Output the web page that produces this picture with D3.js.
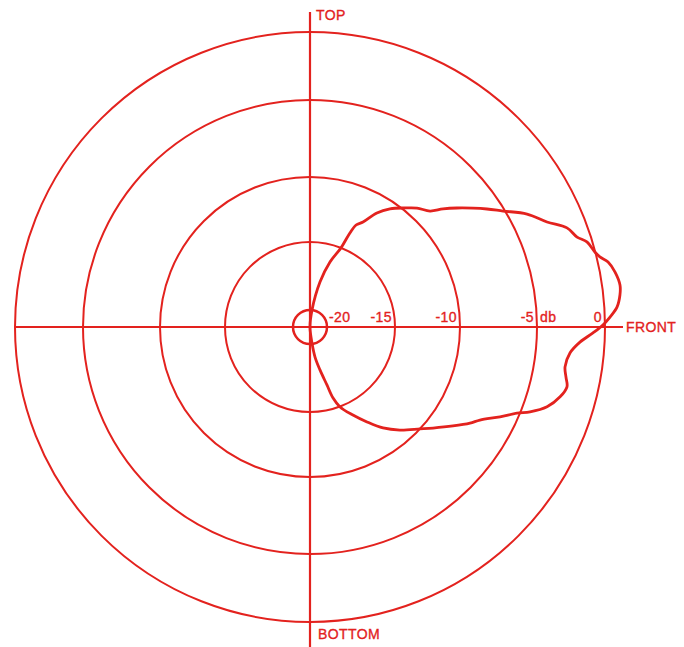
<!DOCTYPE html>
<html>
<head>
<meta charset="utf-8">
<script src="https://cdn.jsdelivr.net/npm/d3@7/dist/d3.min.js"></script>
<style>
  html, body { margin: 0; padding: 0; background: #ffffff; }
  svg { display: block; }
  text { font-family: "Liberation Sans", Arial, sans-serif; fill: #e3221e; stroke: #e3221e; stroke-width: 0.35px; letter-spacing: 0.4px; }
</style>
</head>
<body>
<svg id="chart" width="684" height="647"></svg>
<script>
// Polar response pattern, level in dB versus angle (0° = front, 90° = top)
const ringLevels = [-20, -15, -10, -5, 0];
const ringLabels = ["-20", "-15", "-10", "-5", "0"];
const unitLabel = "db";
const directionLabels = ["TOP", "BOTTOM", "FRONT"];

const angles = [
  0.4, 1.9, 3.7, 5.9, 7.7, 10.2, 12.3, 13.6, 14.7, 17.1, 18.6, 21.1, 23.9, 27.5,
  31.0, 33.7, 36.1, 39.0, 41.6, 44.0, 48.0, 51.4, 55.9, 59.6, 63.2, 65.7, 67.0,
  68.6, 72.9, 77.5, 83.3, 180,
  277.1, 279.5, 283.1, 286.3, 288.0, 290.6, 296.0, 301.0, 305.9, 311.1, 317.2,
  320.6, 325.3, 329.0, 331.3, 334.7, 337.4, 338.9, 341.4, 344.4, 346.9, 348.9,
  351.1, 354.3, 356.8, 358.8
];
const levels = [
  -0.15, 0.38, 0.93, 1.22, 1.31, 1.10, 0.74, 0.24, -0.02, -0.39, -0.97, -1.44, -2.63, -3.70,
  -5.12, -5.93, -6.64, -7.46, -8.19, -8.90, -9.35, -9.85, -10.57, -11.37, -12.49, -12.93, -13.68,
  -15.0, -16.25, -17.86, -20.0, -21,
  -20.05, -19.01, -18.01, -16.81, -15.76, -14.97, -14.01, -13.02, -11.95, -11.02, -10.0,
  -9.40, -8.45, -7.62, -7.16, -6.09, -5.18, -4.35, -3.30, -2.60, -2.29, -2.51,
  -2.71, -2.48, -1.81, -0.88
];

const red = "#e3221e";
const svg = d3.select("#chart");
const cx = 310, cy = 327;

// Radial scale of the printed chart paper (grid spacing is not perfectly even)
const r = d3.scaleLinear()
  .domain([-21, -20, -15, -10, -5, 0, 5])
  .range([0, 17, 85, 150, 227, 295, 363]);

const g = svg.append("g").attr("transform", `translate(${cx},${cy})`);

// Concentric level circles
g.selectAll("circle.ring")
  .data(ringLevels)
  .join("circle")
  .attr("class", "ring")
  .attr("r", d => r(d))
  .attr("fill", "none")
  .attr("stroke", red)
  .attr("stroke-width", d => d === -20 ? 2.5 : 2);

// Axes: top–bottom and back–front
g.append("line")
  .attr("x1", 0).attr("x2", 0)
  .attr("y1", 12 - cy).attr("y2", 647 - cy)
  .attr("stroke", red).attr("stroke-width", 2.2);
g.append("line")
  .attr("x1", -r(0)).attr("x2", r(0) + 18)
  .attr("y1", 0).attr("y2", 0)
  .attr("stroke", red).attr("stroke-width", 2.2);

// Level labels along the front axis
g.selectAll("text.level")
  .data(ringLevels)
  .join("text")
  .attr("class", "level")
  .attr("x", d => d === -20 ? r(d) + 2 : r(d) - 3)
  .attr("y", -5)
  .attr("text-anchor", d => d === -20 ? "start" : "end")
  .attr("font-size", 14)
  .text((d, i) => ringLabels[i]);

g.append("text")
  .attr("x", r(-5) + 3)
  .attr("y", -5)
  .attr("font-size", 14)
  .text(unitLabel);

// Direction labels
g.append("text").attr("x", 6).attr("y", 20 - cy).attr("font-size", 14).text(directionLabels[0]);
g.append("text").attr("x", 8).attr("y", 639 - cy).attr("font-size", 14).text(directionLabels[1]);
g.append("text").attr("x", r(0) + 21).attr("y", 5).attr("font-size", 14).text(directionLabels[2]);

// Response pattern
const pts = angles.map((a, i) => [a, levels[i]]);
const pattern = d3.lineRadial()
  .angle(d => Math.PI / 2 - d[0] * Math.PI / 180)
  .radius(d => r(d[1]))
  .curve(d3.curveCatmullRomClosed.alpha(0.5));

g.append("path")
  .attr("d", pattern(pts))
  .attr("fill", "none")
  .attr("stroke", red)
  .attr("stroke-width", 2.8)
  .attr("stroke-linejoin", "round");
</script>
</body>
</html>
